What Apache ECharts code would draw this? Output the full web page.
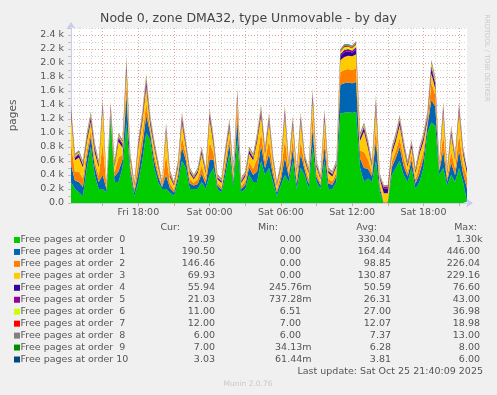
<!DOCTYPE html>
<html>
<head>
<meta charset="utf-8">
<script src="https://cdn.jsdelivr.net/npm/echarts@6/dist/echarts.min.js"></script>
<style>
html,body{margin:0;padding:0;background:#f0f0f0;}
#c{width:497px;height:395px;}
</style>
</head>
<body>
<div id="c"></div>
<script>
// ---- data (20-minute samples, Fri 12:20 .. Sat 21:40) ----
const tickLabels = ['Fri 18:00', 'Sat 00:00', 'Sat 06:00', 'Sat 12:00', 'Sat 18:00'];
const seriesNames = ['Free pages at order  0','Free pages at order  1','Free pages at order  2','Free pages at order  3','Free pages at order  4','Free pages at order  5','Free pages at order  6','Free pages at order  7','Free pages at order  8','Free pages at order  9','Free pages at order 10'];
const seriesColors = ['#00CC00','#0066B3','#FF8000','#FFCC00','#330099','#990099','#CCFF00','#FF0000','#808080','#008F00','#00487D'];

const order0 = [300,200,150,100,500,800,400,200,200,150,
 1200,300,300,500,1150,400,100,300,600,1000,
 900,500,300,200,200,150,100,300,600,500,
 200,200,200,300,200,400,500,200,150,400,
 700,250,900,150,200,400,300,300,600,400,
 500,300,100,250,400,300,600,200,500,400,
 200,800,300,200,600,200,200,300,1280,1290,
 1295,1290,1300,500,300,350,300,600,150,0,
 10,400,500,600,400,300,500,200,300,500,
 1000,1150,1100,400,500,250,400,300,500,300,
 19.39];
const order1 = [250,120,150,130,150,150,120,100,200,40,
 80,80,150,120,400,80,60,130,200,250,
 100,110,80,30,200,60,50,70,200,110,
 80,50,70,120,70,220,120,50,40,100,
 150,60,300,50,60,110,100,150,220,100,
 200,100,50,80,250,70,180,70,200,80,
 70,260,70,50,200,80,60,80,410,420,
 425,420,430,140,200,140,80,300,60,0,
 0,110,140,200,130,80,110,80,120,140,
 100,320,280,60,250,60,170,100,250,120,
 190.5];
const order2 = [300,130,150,120,100,90,80,90,450,30,
 30,60,200,70,150,60,40,160,160,180,
 50,80,60,10,300,70,40,60,150,80,
 60,40,70,120,60,250,90,40,40,90,
 100,50,180,40,50,80,90,190,190,90,
 200,90,40,80,270,60,150,70,200,60,
 70,190,60,40,180,60,50,60,180,190,
 195,190,195,110,230,130,60,180,60,20,
 20,80,100,130,110,60,80,60,120,100,
 40,250,160,30,240,50,170,90,240,120,
 146.46];
const order3 = [400,160,200,160,130,120,120,120,500,30,
 40,80,230,100,200,70,50,200,200,230,
 70,110,80,20,320,90,60,80,200,110,
 90,50,90,160,90,330,120,50,60,110,
 120,70,120,50,70,110,120,240,240,110,
 260,120,60,100,330,80,180,90,260,70,
 90,230,80,50,220,90,70,80,170,185,
 190,195,200,140,290,170,80,280,70,120,
 110,110,140,180,150,80,100,90,160,140,
 40,130,90,40,310,70,230,120,310,160,
 69.93];
const order4 = [58,34,38,35,46,55,60,34,57,18,
 38,30,46,42,76,34,18,42,54,72,
 55,38,30,14,50,28,18,34,58,38,
 26,22,26,38,30,58,46,22,22,38,
 50,26,57,22,26,38,34,46,57,38,
 53,34,18,34,58,34,53,26,53,34,
 26,65,34,22,58,26,26,30,58,70,
 62,55,66,42,50,42,30,76,22,70,
 68,38,46,54,42,30,42,26,38,46,
 46,76,65,26,58,26,50,34,58,38,
 55.94];
const order5 = [30,17,20,17,23,28,26,17,30,9,
 19,15,23,21,40,17,9,21,28,38,
 26,19,15,7,26,15,9,17,30,19,
 13,11,13,19,15,30,23,11,11,19,
 26,13,30,11,13,19,17,23,30,19,
 28,17,9,17,30,17,28,13,28,17,
 13,34,17,11,30,13,13,15,30,34,
 32,28,36,21,26,21,15,38,11,18,
 20,19,23,28,21,15,21,13,19,23,
 23,40,34,13,30,13,26,17,30,19,
 21.03];
const order6 = [28,16,18,16,22,26,22,16,28,8,
 18,14,22,20,36,16,8,20,26,35,
 24,18,14,7,24,20,8,16,28,18,
 12,10,12,18,14,28,22,10,10,18,
 24,12,28,10,12,18,16,22,28,18,
 26,16,8,16,28,16,26,12,26,16,
 12,32,16,10,28,12,12,14,30,36,
 33,30,37,20,24,20,14,35,10,8,
 9,18,22,26,20,14,20,12,18,22,
 22,36,32,12,28,12,24,16,28,18,
 11];
const order7 = [14,10,11,10,12,13,12,10,14,7,
 11,9,12,11,17,10,7,11,13,16,
 12,11,9,7,12,17,7,10,14,11,
 9,8,9,11,9,14,12,8,8,11,
 12,9,14,8,9,11,10,12,14,11,
 13,10,7,10,14,10,13,9,13,10,
 9,15,10,8,14,9,9,10,15,17,
 16,15,18,11,12,11,10,16,8,7,
 7,11,12,13,11,10,11,9,11,12,
 12,17,15,9,14,9,12,10,14,11,
 12];
const order8 = [8,7,7,7,7,8,7,7,8,6,
 7,6,7,7,11,7,6,7,8,10,
 7,7,6,6,7,7,6,7,8,7,
 6,6,6,7,6,8,7,6,6,7,
 7,6,8,6,6,7,7,7,8,7,
 8,7,6,7,8,7,8,6,8,7,
 6,9,7,6,8,6,6,7,10,12,
 11,10,13,7,7,7,7,9,6,6,
 6,7,7,8,7,7,7,6,7,7,
 7,11,9,6,8,6,7,7,8,7,
 6];
const order9 = [6,5,5,5,6,6,6,5,6,4,
 5,5,6,6,7,5,4,6,6,7,
 6,5,5,4,6,5,4,5,6,5,
 5,5,5,6,5,6,6,5,5,6,
 6,5,6,5,5,6,5,6,6,5,
 6,5,4,5,6,5,6,5,6,5,
 5,7,5,5,6,5,5,5,8,8,
 8,8,8,6,6,6,5,7,5,4,
 4,6,6,6,6,5,6,5,6,6,
 6,7,7,5,6,5,6,5,6,6,
 7];
const order10 = [4,3,3,3,4,4,4,3,4,2,
 3,3,4,4,5,3,2,4,4,5,
 4,3,3,2,4,3,2,3,4,3,
 3,3,3,4,3,4,4,3,3,4,
 4,3,4,3,3,4,3,4,4,3,
 4,3,2,3,4,3,4,3,4,3,
 3,5,3,3,4,3,3,3,6,6,
 6,6,6,4,4,4,3,5,3,2,
 2,4,4,4,4,3,4,3,4,4,
 4,5,5,3,4,3,4,3,4,4,
 3.03];
const seriesData = [order0,order1,order2,order3,order4,order5,order6,order7,order8,order9,order10];

const curVals = ['19.39','190.50','146.46','69.93','55.94','21.03','11.00','12.00','6.00','7.00','3.03'];
const minVals = ['0.00','0.00','0.00','0.00','245.76m','737.28m','6.51','7.00','6.00','34.13m','61.44m'];
const avgVals = ['330.04','164.44','98.85','130.87','50.59','26.31','27.00','12.07','7.37','6.28','3.81'];
const maxVals = ['1.30k','446.00','226.04','229.16','76.60','43.00','36.98','18.98','13.00','8.00','6.00'];

// ---- categories: 20-minute steps starting Fri 12:20 ----
const categories = [];
for (let i = 0; i < order0.length; i++) {
  const m = 12 * 60 + 20 + 20 * i;
  const day = m >= 1440 ? 'Sat' : 'Fri';
  const mm = m % 1440;
  const hh = Math.floor(mm / 60), mi = mm % 60;
  categories.push(day + ' ' + String(hh).padStart(2, '0') + ':' + String(mi).padStart(2, '0'));
}
function isHour(v) { return v.endsWith(':00'); }
function hourOf(v) { return parseInt(v.slice(4, 6), 10); }

const FONT = 'DejaVu Sans';
const TXT = '#555555';

const chart = echarts.init(document.getElementById('c'), null, {renderer: 'canvas'});

const graphics = [];
graphics.push({type: 'text', left: 'center', top: 12, style: {text: 'Node 0, zone DMA32, type Unmovable - by day', font: '12.5px "DejaVu Sans"', fill: '#444'}});
graphics.push({type: 'text', x: 487, y: 58, rotation: -Math.PI / 2, style: {text: 'RRDTOOL / TOBI OETIKER', font: '6.8px "DejaVu Sans"', fill: '#c8c8c8', align: 'center', verticalAlign: 'middle'}});
const headerY = 228;
[['Cur:', 180], ['Min:', 278], ['Avg:', 377], ['Max:', 477]].forEach(function (h) {
  graphics.push({type: 'text', x: h[1], y: headerY, style: {text: h[0], font: '9.5px "DejaVu Sans"', fill: TXT, align: 'right', verticalAlign: 'middle'}});
});
function cellRight(base, s) {
  if (/m$/.test(s)) return base + 10.5;
  if (/k$/.test(s)) return base + 2.5;
  return base;
}
for (let i = 0; i < seriesNames.length; i++) {
  const y = 240 + 11.95 * i;
  graphics.push({type: 'rect', shape: {x: 14, y: y - 3, width: 6, height: 6}, style: {fill: seriesColors[i]}});
  graphics.push({type: 'text', x: 20.5, y: y, style: {text: seriesNames[i], font: '9.5px "DejaVu Sans"', fill: TXT, align: 'left', verticalAlign: 'middle'}});
  graphics.push({type: 'text', x: cellRight(215, curVals[i]), y: y, style: {text: curVals[i], font: '9.5px "DejaVu Sans"', fill: TXT, align: 'right', verticalAlign: 'middle'}});
  graphics.push({type: 'text', x: cellRight(301, minVals[i]), y: y, style: {text: minVals[i], font: '9.5px "DejaVu Sans"', fill: TXT, align: 'right', verticalAlign: 'middle'}});
  graphics.push({type: 'text', x: cellRight(391, avgVals[i]), y: y, style: {text: avgVals[i], font: '9.5px "DejaVu Sans"', fill: TXT, align: 'right', verticalAlign: 'middle'}});
  graphics.push({type: 'text', x: cellRight(480, maxVals[i]), y: y, style: {text: maxVals[i], font: '9.5px "DejaVu Sans"', fill: TXT, align: 'right', verticalAlign: 'middle'}});
}
graphics.push({type: 'text', x: 483, y: 372, style: {text: 'Last update: Sat Oct 25 21:40:09 2025', font: '9.5px "DejaVu Sans"', fill: TXT, align: 'right', verticalAlign: 'middle'}});
graphics.push({type: 'text', x: 248, y: 384, style: {text: 'Munin 2.0.76', font: '7.5px "DejaVu Sans"', fill: '#c8c8c8', align: 'center', verticalAlign: 'middle'}});

const option = {
  animation: false,
  backgroundColor: '#f0f0f0',
  textStyle: {fontFamily: FONT},
  grid: {left: 67, right: 30, top: 28, bottom: 192, show: true, backgroundColor: '#ffffff', borderWidth: 0, z: 0},
  xAxis: [{
    type: 'category', data: categories, boundaryGap: false,
    axisLine: {show: true, symbol: ['none', 'arrow'], symbolSize: [7, 7], symbolOffset: [0, 6], lineStyle: {color: '#c8cdf0', width: 1}},
    axisTick: {show: false},
    axisLabel: {interval: function (idx, v) { return tickLabels.indexOf(v) >= 0; }, color: TXT, fontSize: 9.5, fontFamily: FONT, margin: 5},
    splitLine: {show: true, interval: function (idx, v) { return isHour(v) && hourOf(v) % 3 !== 0; }, lineStyle: {color: '#d4d4d4', type: [1, 2], width: 1}},
    z: 1
  }, {
    type: 'category', data: categories, boundaryGap: false, position: 'bottom',
    axisLine: {show: false},
    axisTick: {show: true, interval: function (idx, v) { return isHour(v) && hourOf(v) % 3 === 0; }, length: 3, lineStyle: {color: '#e0a0a0'}},
    axisLabel: {show: false},
    splitLine: {show: true, interval: function (idx, v) { return isHour(v) && hourOf(v) % 3 === 0; }, lineStyle: {color: '#e4a3a3', type: [1, 2], width: 1}},
    z: 1
  }],
  yAxis: {
    type: 'value', min: 0, max: 2500, interval: 100,
    name: 'pages', nameLocation: 'middle', nameGap: 52, nameRotate: 90,
    nameTextStyle: {color: TXT, fontSize: 10.5, fontFamily: FONT},
    axisLine: {show: true, symbol: ['none', 'arrow'], symbolSize: [7, 7], symbolOffset: [0, 6], lineStyle: {color: '#c8cdf0', width: 1}},
    axisTick: {show: true, length: 3, lineStyle: {color: '#c0c0c0'}},
    axisLabel: {color: TXT, fontSize: 9.5, fontFamily: FONT, margin: 7,
      formatter: function (v) { if (v % 200 !== 0) return ''; return v === 0 ? '0.0' : (v / 1000).toFixed(1) + ' k'; }},
    splitLine: {show: true, lineStyle: {color: ['#e4a3a3', '#d4d4d4'], type: [1, 2], width: 1}},
    z: 1
  },
  series: seriesNames.map(function (n, i) {
    return {
      name: n, type: 'line', stack: 'total', data: seriesData[i],
      xAxisIndex: 0, showSymbol: false, symbol: 'none',
      lineStyle: {width: 0}, areaStyle: {color: seriesColors[i], opacity: 1},
      itemStyle: {color: seriesColors[i]}, z: 2
    };
  }),
  graphic: graphics
};
chart.setOption(option);
</script>
</body>
</html>
